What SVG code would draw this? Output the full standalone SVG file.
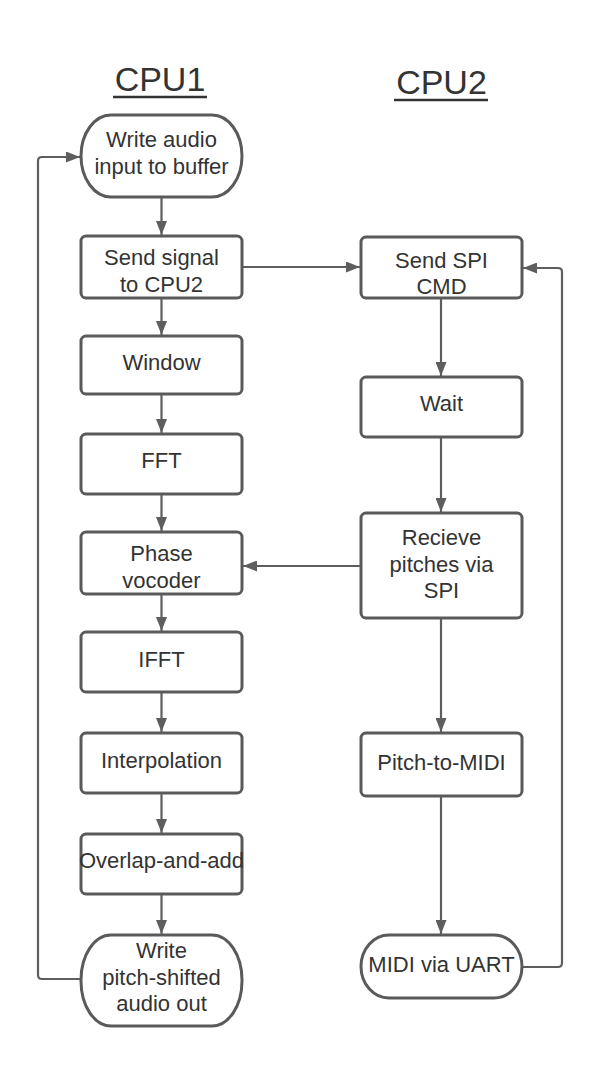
<svg xmlns="http://www.w3.org/2000/svg" width="603" height="1065" viewBox="0 0 603 1065">
<style>
.node{fill:#ffffff;stroke:#5a5a5a;stroke-width:3}
.t{font-family:"Liberation Sans",Arial,sans-serif;font-size:22px;fill:#333333;text-anchor:middle}
.title{font-family:"Liberation Sans",Arial,sans-serif;font-size:34px;fill:#333333;text-anchor:middle}
.ul{stroke:#333333;stroke-width:2.5}
.c{fill:none;stroke:#5e5e5e;stroke-width:2.2}
</style>
<defs>
<marker id="ah" viewBox="0 0 14 11" refX="14" refY="5.5" markerWidth="14" markerHeight="11" markerUnits="userSpaceOnUse" orient="auto">
<path d="M0,0 L14,5.5 L0,11 Z" fill="#5e5e5e"/>
</marker>
</defs>
<rect width="603" height="1065" fill="#ffffff"/>
<g id="titles">
<text class="title" x="160" y="91">CPU1</text>
<line class="ul" x1="113" y1="97" x2="207" y2="97"/>
<text class="title" x="441.5" y="94">CPU2</text>
<line class="ul" x1="394" y1="100" x2="488" y2="100"/>
</g>
<g id="connectors">
<path class="c" d="M161.5,197 V235" marker-end="url(#ah)"/>
<path class="c" d="M161.5,298 V335" marker-end="url(#ah)"/>
<path class="c" d="M161.5,394 V433" marker-end="url(#ah)"/>
<path class="c" d="M161.5,494 V531" marker-end="url(#ah)"/>
<path class="c" d="M161.5,594 V631" marker-end="url(#ah)"/>
<path class="c" d="M161.5,692 V732" marker-end="url(#ah)"/>
<path class="c" d="M161.5,793 V833" marker-end="url(#ah)"/>
<path class="c" d="M161.5,894 V934" marker-end="url(#ah)"/>
<path class="c" d="M242,267 H360" marker-end="url(#ah)"/>
<path class="c" d="M441,298 V376" marker-end="url(#ah)"/>
<path class="c" d="M441,437 V512" marker-end="url(#ah)"/>
<path class="c" d="M361,566 H243" marker-end="url(#ah)"/>
<path class="c" d="M441,618 V732" marker-end="url(#ah)"/>
<path class="c" d="M441,796 V934" marker-end="url(#ah)"/>
<path class="c" d="M522,967 H558 Q562,967 562,963 V272 Q562,268 558,268 H523" marker-end="url(#ah)"/>
<path class="c" d="M81,979 H42 Q38,979 38,975 V161 Q38,157 42,157 H80" marker-end="url(#ah)"/>
</g>
<g id="n-write-audio">
<rect class="node" x="81" y="115" width="161" height="82" rx="30" ry="41"/>
<text class="t" x="161.5" y="147">Write audio</text>
<text class="t" x="161.5" y="174">input to buffer</text>
</g>
<g id="n-send-signal">
<rect class="node" x="81" y="236" width="161" height="62" rx="5"/>
<text class="t" x="161.5" y="265">Send signal</text>
<text class="t" x="161.5" y="292">to CPU2</text>
</g>
<g id="n-window">
<rect class="node" x="81" y="336" width="161" height="58" rx="5"/>
<text class="t" x="161.5" y="370">Window</text>
</g>
<g id="n-fft">
<rect class="node" x="81" y="434" width="161" height="60" rx="5"/>
<text class="t" x="161.5" y="468">FFT</text>
</g>
<g id="n-phase">
<rect class="node" x="81" y="532" width="161" height="62" rx="5"/>
<text class="t" x="161.5" y="561">Phase</text>
<text class="t" x="161.5" y="588">vocoder</text>
</g>
<g id="n-ifft">
<rect class="node" x="81" y="632" width="161" height="60" rx="5"/>
<text class="t" x="161.5" y="667">IFFT</text>
</g>
<g id="n-interp">
<rect class="node" x="81" y="733" width="161" height="60" rx="5"/>
<text class="t" x="161.5" y="768">Interpolation</text>
</g>
<g id="n-overlap">
<rect class="node" x="81" y="834" width="161" height="60" rx="5"/>
<text class="t" x="161.5" y="868">Overlap-and-add</text>
</g>
<g id="n-write-out">
<rect class="node" x="81" y="935" width="161" height="91" rx="30" ry="45"/>
<text class="t" x="161.5" y="958">Write</text>
<text class="t" x="161.5" y="985">pitch-shifted</text>
<text class="t" x="161.5" y="1011">audio out</text>
</g>
<g id="n-send-spi">
<rect class="node" x="361" y="237" width="161" height="61" rx="5"/>
<text class="t" x="441.5" y="268">Send SPI</text>
<text class="t" x="441.5" y="294">CMD</text>
</g>
<g id="n-wait">
<rect class="node" x="361" y="377" width="161" height="60" rx="5"/>
<text class="t" x="441.5" y="411">Wait</text>
</g>
<g id="n-recieve">
<rect class="node" x="361" y="513" width="161" height="105" rx="5"/>
<text class="t" x="441.5" y="545">Recieve</text>
<text class="t" x="441.5" y="572">pitches via</text>
<text class="t" x="441.5" y="598">SPI</text>
</g>
<g id="n-pitch-midi">
<rect class="node" x="361" y="733" width="161" height="63" rx="5"/>
<text class="t" x="441.5" y="770">Pitch-to-MIDI</text>
</g>
<g id="n-midi-uart">
<rect class="node" x="361" y="935" width="161" height="63" rx="28" ry="31.5"/>
<text class="t" x="441.5" y="972">MIDI via UART</text>
</g>
</svg>
